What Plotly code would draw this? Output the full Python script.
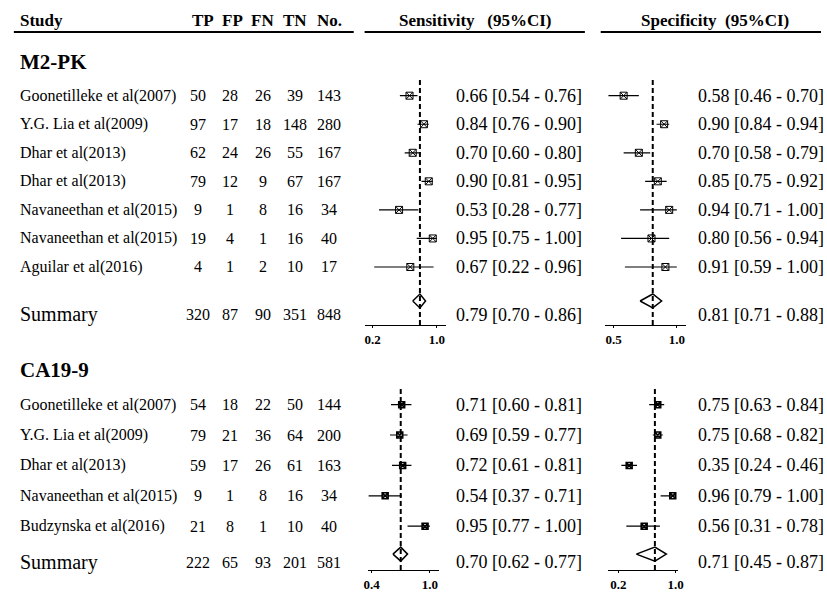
import plotly.graph_objects as go

# ---------------- data ----------------
m2_studies = ["Goonetilleke et al(2007)", "Y.G. Lia et al(2009)", "Dhar et al(2013)",
              "Dhar et al(2013)", "Navaneethan et al(2015)", "Navaneethan et al(2015)",
              "Aguilar et al(2016)"]
m2_tp = [50, 97, 62, 79, 9, 19, 4]
m2_fp = [28, 17, 24, 12, 1, 4, 1]
m2_fn = [26, 18, 26, 9, 8, 1, 2]
m2_tn = [39, 148, 55, 67, 16, 16, 10]
m2_no = [143, 280, 167, 167, 34, 40, 17]
m2_total = [320, 87, 90, 351, 848]
m2_sens = [0.66, 0.84, 0.70, 0.90, 0.53, 0.95, 0.67]
m2_sens_lo = [0.54, 0.76, 0.60, 0.81, 0.28, 0.75, 0.22]
m2_sens_hi = [0.76, 0.90, 0.80, 0.95, 0.77, 1.00, 0.96]
m2_sens_sum = [0.79, 0.70, 0.86]
m2_spec = [0.58, 0.90, 0.70, 0.85, 0.94, 0.80, 0.91]
m2_spec_lo = [0.46, 0.84, 0.58, 0.75, 0.71, 0.56, 0.59]
m2_spec_hi = [0.70, 0.94, 0.79, 0.92, 1.00, 0.94, 1.00]
m2_spec_sum = [0.81, 0.71, 0.88]

ca_studies = ["Goonetilleke et al(2007)", "Y.G. Lia et al(2009)", "Dhar et al(2013)",
              "Navaneethan et al(2015)", "Budzynska et al(2016)"]
ca_tp = [54, 79, 59, 9, 21]
ca_fp = [18, 21, 17, 1, 8]
ca_fn = [22, 36, 26, 8, 1]
ca_tn = [50, 64, 61, 16, 10]
ca_no = [144, 200, 163, 34, 40]
ca_total = [222, 65, 93, 201, 581]
ca_sens = [0.71, 0.69, 0.72, 0.54, 0.95]
ca_sens_lo = [0.60, 0.59, 0.61, 0.37, 0.77]
ca_sens_hi = [0.81, 0.77, 0.81, 0.71, 1.00]
ca_sens_sum = [0.70, 0.62, 0.77]
ca_spec = [0.75, 0.75, 0.35, 0.96, 0.56]
ca_spec_lo = [0.63, 0.68, 0.24, 0.79, 0.31]
ca_spec_hi = [0.84, 0.82, 0.46, 1.00, 0.78]
ca_spec_sum = [0.71, 0.45, 0.87]

col_headers = ["TP", "FP", "FN", "TN", "No."]
m2_ticks = [[0.2, 1.0], [0.5, 1.0]]
ca_ticks = [[0.4, 1.0], [0.2, 1.0]]

# ---------------- layout constants ----------------
W, H = 827, 592
SERIF = "Liberation Serif, Times New Roman, serif"
col_x = [196, 229, 262, 295, 329]
hdr_x = [201, 231, 262, 295, 329]
sens_text_x = 455
spec_text_x = 700

fig = go.Figure()
ann = []
shapes = []


def txt(x, y, s, size=16, bold=False, anchor="left"):
    ann.append(dict(x=x, y=y, xref="x", yref="y", text=("<b>%s</b>" % s) if bold else s,
                    showarrow=False, xanchor=anchor, yanchor="middle",
                    font=dict(family=SERIF, size=size, color="black")))


# header
txt(14, 21, "Study", 17, True)
for h, x in zip(col_headers, hdr_x):
    txt(x, 21, h, 17, True, "center")
txt(477, 21, "Sensitivity&nbsp;&nbsp;&nbsp;(95%CI)", 17, True, "center")
txt(720, 21, "Specificity&nbsp;&nbsp;(95%CI)", 17, True, "center")
for x0, x1 in [(10, 354), (365, 588), (604, 827)]:
    shapes.append(dict(type="line", xref="x", yref="y", x0=x0, x1=x1, y0=32, y1=32,
                       line=dict(color="black", width=2)))


def section(title, title_y, studies, cols, total, sens, slo, shi, ssum,
            spec, plo, phi, psum, row0, dy, sum_y, diamond_y, panels, ticks, axn,
            msize, mline):
    txt(14, title_y, title, 21, True)
    for i, name in enumerate(studies):
        y = row0 + dy * i
        txt(14, y, name, 16)
        for c, x in zip(cols, col_x):
            txt(x, y, str(c[i]), 16, False, "center")
        txt(sens_text_x, y, "%.2f [%.2f - %.2f]" % (sens[i], slo[i], shi[i]), 18)
        txt(spec_text_x, y, "%.2f [%.2f - %.2f]" % (spec[i], plo[i], phi[i]), 18)
    txt(14, sum_y, "Summary", 20)
    for c, x in zip(total, col_x):
        txt(x, sum_y, str(c), 16, False, "center")
    txt(sens_text_x, sum_y, "%.2f [%.2f - %.2f]" % tuple(ssum), 18)
    txt(spec_text_x, sum_y, "%.2f [%.2f - %.2f]" % tuple(psum), 18)

    rows_y = [row0 + dy * i for i in range(len(studies))]
    for k, (est, lo, hi, sm, tk, pan) in enumerate(
            [(sens, slo, shi, ssum, ticks[0], panels[0]), (spec, plo, phi, psum, ticks[1], panels[1])]):
        n = axn + k
        xa, ya = "x%d" % n, "y%d" % n
        (x0, x1, y0, y1, rng) = pan
        e, l, h = sm
        shapes.append(dict(type="line", xref=xa, yref=ya + " domain", x0=e, x1=e, y0=0, y1=1,
                           layer="above", line=dict(color="black", width=2, dash="5px,3px")))
        fig.add_trace(go.Scatter(
            x=est, y=rows_y, xaxis=xa, yaxis=ya, mode="markers",
            marker=dict(symbol="square-x-open", size=msize, color="black", line=dict(width=mline)),
            error_x=dict(type="data", symmetric=False,
                         array=[hv - ev for hv, ev in zip(hi, est)],
                         arrayminus=[ev - lv for ev, lv in zip(est, lo)],
                         width=0, thickness=1.2, color="black"),
            showlegend=False, hoverinfo="skip"))
        hh = 7
        fig.add_trace(go.Scatter(
            x=[l, e, h, e, l], y=[diamond_y, diamond_y - hh, diamond_y, diamond_y + hh, diamond_y],
            xaxis=xa, yaxis=ya, mode="lines", line=dict(color="black", width=1.5),
            showlegend=False, hoverinfo="skip"))
        fig.layout["xaxis%d" % n] = dict(
            domain=[x0 / W, x1 / W], range=rng, anchor=ya, showgrid=False, zeroline=False,
            showline=True, linecolor="black", linewidth=1.2, ticks="outside", ticklen=2,
            tickcolor="black", tickvals=tk, ticktext=["<b>%.1f</b>" % t for t in tk],
            tickfont=dict(family=SERIF, size=13, color="black"), fixedrange=True)
        fig.layout["yaxis%d" % n] = dict(
            domain=[1 - y1 / H, 1 - y0 / H], range=[y1, y0], anchor=xa, visible=False,
            fixedrange=True)


section("M2-PK", 62, m2_studies, [m2_tp, m2_fp, m2_fn, m2_tn, m2_no], m2_total,
        m2_sens, m2_sens_lo, m2_sens_hi, m2_sens_sum,
        m2_spec, m2_spec_lo, m2_spec_hi, m2_spec_sum,
        row0=96, dy=28.65, sum_y=316, diamond_y=302,
        panels=[(365, 447, 78, 326, [0.10, 1.11]), (608, 690, 78, 326, [0.43, 1.07])],
        ticks=m2_ticks, axn=2, msize=7, mline=1)

section("CA19-9", 371, ca_studies, [ca_tp, ca_fp, ca_fn, ca_tn, ca_no], ca_total,
        ca_sens, ca_sens_lo, ca_sens_hi, ca_sens_sum,
        ca_spec, ca_spec_lo, ca_spec_hi, ca_spec_sum,
        row0=406, dy=30.5, sum_y=564, diamond_y=556,
        panels=[(368, 440, 390, 572, [0.359, 1.09]), (611, 682, 390, 572, [0.048, 1.03])],
        ticks=ca_ticks, axn=4, msize=6, mline=1.5)

fig.update_layout(
    width=W, height=H, margin=dict(l=0, r=0, t=0, b=0),
    paper_bgcolor="white", plot_bgcolor="rgba(0,0,0,0)",
    xaxis=dict(domain=[0, 1], range=[0, W], visible=False, fixedrange=True),
    yaxis=dict(domain=[0, 1], range=[H, 0], visible=False, fixedrange=True),
    annotations=ann, shapes=shapes, showlegend=False,
)

fig.write_html("out.html")
